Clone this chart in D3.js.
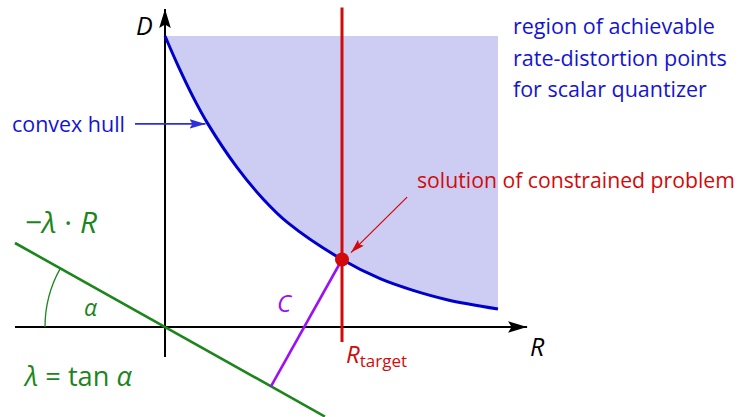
<!DOCTYPE html>
<html>
<head>
<meta charset="utf-8">
<script src="https://cdn.jsdelivr.net/npm/d3@7"></script>
<style>
  body { margin: 0; background: #fff; }
  svg { display: block; }
</style>
</head>
<body>
<svg id="chart" width="739" height="417"></svg>
<script>
// Operational rate-distortion curve (convex hull) of a scalar quantizer
const hullRate = [0.0, 0.43, 0.93, 1.43, 2.4, 3.27, 4.1, 5.9, 7.17, 8.27, 9.4, 11.1];
const hullDist = [9.7, 8.72, 7.68, 6.77, 5.32, 4.27, 3.47, 2.25, 1.61, 1.22, 0.91, 0.6];

// Extent of the achievable region
const regionTop = 9.7;
const regionRight = 11.1;

// Rate constraint and the resulting operating point
const rTarget = 5.9;
const dAtTarget = 2.25;

// Lagrangian slope line D = -lambda * R
const lambda = 0.56;
const slopeRateRange = [-5, 5.33];

// Text labels
const regionLines = ["region of achievable", "rate-distortion points", "for scalar quantizer"];
const hullLabel = "convex hull";
const solutionLabel = "solution of constrained problem";

const FONT = "'Open Sans', 'DejaVu Sans', sans-serif";
const BLUE = "#0000cc", BLUE_TXT = "#1414d2", FILL = "#cdcdf3";
const RED = "#d20a0a", GREEN = "#1c861c", VIOLET = "#9b10f5";

const svg = d3.select("#chart");
const x = d3.scaleLinear().domain([-5, 12]).range([15, 525]);
const y = d3.scaleLinear().domain([-3, 10.5]).range([417, 12]);

const defs = svg.append("defs");
function marker(id, color, len, half) {
  defs.append("marker")
    .attr("id", id).attr("markerUnits", "userSpaceOnUse")
    .attr("viewBox", `0 ${-half} ${len} ${2 * half}`)
    .attr("refX", len).attr("refY", 0)
    .attr("markerWidth", len).attr("markerHeight", 2 * half)
    .attr("orient", "auto")
    .append("path")
    .attr("d", `M0,${-half} L${len},0 L0,${half} L${len * 0.18},0 Z`)
    .attr("fill", color);
}
marker("axisHead", "#000", 19, 5.8);
marker("blueHead", "#2e2ee0", 16, 4.8);
marker("redHead", RED, 14, 4.2);

const hull = hullRate.map((r, i) => ({ r, d: hullDist[i] }));
const hullCurve = d3.curveCatmullRom.alpha(0.5);

// achievable region: everything above the hull, up to the plotted extent
svg.append("path")
  .datum(hull)
  .attr("d", d3.area()
    .x(p => x(p.r))
    .y0(y(regionTop))
    .y1(p => y(p.d))
    .curve(hullCurve))
  .attr("fill", FILL);

// axes
svg.append("line")
  .attr("x1", x(-5)).attr("y1", y(0)).attr("x2", x(12.07)).attr("y2", y(0))
  .attr("stroke", "#000").attr("stroke-width", 2).attr("marker-end", "url(#axisHead)");
svg.append("line")
  .attr("x1", x(0)).attr("y1", y(-1)).attr("x2", x(0)).attr("y2", y(10.6))
  .attr("stroke", "#000").attr("stroke-width", 2).attr("marker-end", "url(#axisHead)");

// convex hull curve
svg.append("path")
  .datum(hull)
  .attr("d", d3.line().x(p => x(p.r)).y(p => y(p.d)).curve(hullCurve))
  .attr("fill", "none").attr("stroke", BLUE).attr("stroke-width", 3);

// slope line through the origin
svg.append("line")
  .attr("x1", x(slopeRateRange[0])).attr("y1", y(-lambda * slopeRateRange[0]))
  .attr("x2", x(slopeRateRange[1])).attr("y2", y(-lambda * slopeRateRange[1]))
  .attr("stroke", GREEN).attr("stroke-width", 2.6);

// angle alpha between the line and the negative R axis
const arcR = x(0) - x(-4);
const arcPath = d3.path();
arcPath.arc(x(0), y(0), arcR, Math.PI, Math.PI + Math.atan(lambda), false);
svg.append("path").attr("d", arcPath.toString())
  .attr("fill", "none").attr("stroke", GREEN).attr("stroke-width", 1.3);

// perpendicular from the operating point onto the slope line (cost C)
const t = (rTarget - lambda * dAtTarget) / (1 + lambda * lambda);
const foot = { r: t, d: -lambda * t };
svg.append("line")
  .attr("x1", x(rTarget)).attr("y1", y(dAtTarget))
  .attr("x2", x(foot.r)).attr("y2", y(foot.d))
  .attr("stroke", VIOLET).attr("stroke-width", 2.6);

// rate constraint
svg.append("line")
  .attr("x1", x(rTarget)).attr("y1", y(10.65)).attr("x2", x(rTarget)).attr("y2", y(-0.5))
  .attr("stroke", RED).attr("stroke-width", 3);

// annotation arrows
svg.append("line")
  .attr("x1", x(-1.0)).attr("y1", y(6.77)).attr("x2", x(1.35)).attr("y2", y(6.77))
  .attr("stroke", "#2e2ee0").attr("stroke-width", 1.6).attr("marker-end", "url(#blueHead)");
svg.append("line")
  .attr("x1", x(8.07)).attr("y1", y(4.33)).attr("x2", x(6.2)).attr("y2", y(2.48))
  .attr("stroke", RED).attr("stroke-width", 1.3).attr("marker-end", "url(#redHead)");

// operating point
svg.append("circle")
  .attr("cx", x(rTarget)).attr("cy", y(dAtTarget)).attr("r", 7)
  .attr("fill", RED);

// text helpers
function fitWidth(t, size, width) {
  const w = t.node().getComputedTextLength();
  t.attr("font-size", size * width / w);
}
function label(px, py, str, color, size, opts = {}) {
  const t = svg.append("text")
    .attr("x", px).attr("y", py)
    .attr("fill", color)
    .attr("font-family", FONT)
    .attr("font-size", size)
    .attr("font-style", opts.italic ? "italic" : "normal")
    .text(str);
  if (opts.width) fitWidth(t, size, opts.width);
  return t;
}

const regionWidths = [202, 214, 194];
const regionBase = [34, 66, 97];
regionLines.forEach((s, i) => label(513, regionBase[i], s, BLUE_TXT, 19, { width: regionWidths[i] }));
label(12, 132, hullLabel, BLUE_TXT, 19, { width: 113 });
label(417, 188, solutionLabel, RED, 19, { width: 318 });

label(136, 35, "D", "#000", 25, { italic: true });
label(530, 356, "R", "#000", 25, { italic: true });
label(277, 312, "C", VIOLET, 24, { italic: true });
label(84, 316, "α", GREEN, 23, { italic: true });

const lr = label(25, 233, "", GREEN, 22);
lr.append("tspan").text("−");
lr.append("tspan").attr("font-style", "italic").text("λ");
lr.append("tspan").text(" · ");
lr.append("tspan").attr("font-style", "italic").text("R");
fitWidth(lr, 22, 72);

const lt = label(25, 386, "", GREEN, 22);
lt.append("tspan").attr("font-style", "italic").text("λ");
lt.append("tspan").text(" = tan ");
lt.append("tspan").attr("font-style", "italic").text("α");
fitWidth(lt, 22, 107);

const rt = label(346, 363, "", RED, 24);
rt.append("tspan").attr("font-style", "italic").text("R");
rt.append("tspan").attr("font-size", 17).attr("dy", 4).text("target");
</script>
</body>
</html>
